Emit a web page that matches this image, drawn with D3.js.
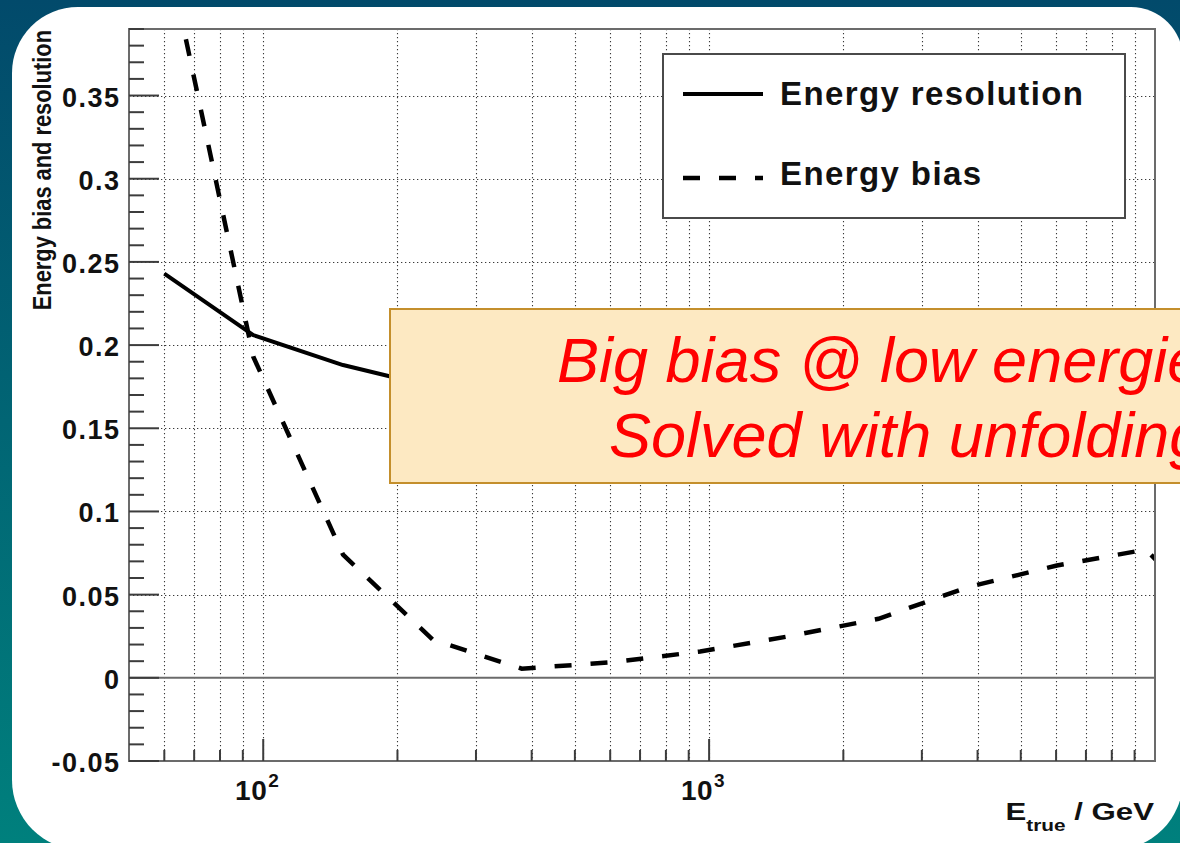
<!DOCTYPE html>
<html>
<head>
<meta charset="utf-8">
<script src="https://cdn.jsdelivr.net/npm/d3@7"></script>
<style>
  html, body { margin: 0; padding: 0; overflow: hidden; background: #fff; }
  svg { display: block; }
  text { font-family: "Liberation Sans", Arial, Helvetica, sans-serif; }
</style>
</head>
<body>
<svg id="chart" width="1180" height="843"></svg>
<script>
// Bin centres of the true-energy histogram (GeV)
const energyGeV = [60, 95, 151, 240, 380, 603, 955, 1514, 2399, 3802, 6026, 9550, 15136];
// Relative energy resolution per bin
const resolution = [0.243, 0.206, 0.188, 0.175, 0.162, 0.152, 0.144, 0.138, 0.133, 0.130, 0.128, 0.127];
// Relative energy bias per bin
const bias = [0.445, 0.193, 0.074, 0.023, 0.0055, 0.0093, 0.0158, 0.025, 0.0355, 0.0545, 0.0675, 0.0771, 0.02];

const yMajorTicks = [-0.05, 0, 0.05, 0.1, 0.15, 0.2, 0.25, 0.3, 0.35];
const yTickLabels = ["-0.05", "0", "0.05", "0.1", "0.15", "0.2", "0.25", "0.3", "0.35"];
const xDecades = [100, 1000];
const xDecadeExponents = ["2", "3"];
const legendLabels = ["Energy resolution", "Energy bias"];
const noteLines = ["Big bias @ low energies", "Solved with unfolding"];
const yTitle = "Energy bias and resolution";

const svg = d3.select("#chart");
const W = 1180, H = 843;
const frame = { left: 129, right: 1155, top: 29, bottom: 761 };

const x = d3.scaleLog().domain([50, 10000]).range([frame.left, frame.right]);
const y = d3.scaleLinear().domain([-0.05, 0.39]).range([frame.bottom, frame.top]);

// ---- slide backdrop ----
const defs = svg.append("defs");
const grad = defs.append("linearGradient").attr("id", "slideBg")
  .attr("x1", 0).attr("y1", 0).attr("x2", 0).attr("y2", 1);
grad.append("stop").attr("offset", "0%").attr("stop-color", "#024a6b");
grad.append("stop").attr("offset", "100%").attr("stop-color", "#00807d");
svg.append("rect").attr("width", W).attr("height", H).attr("fill", "url(#slideBg)");

// white content panel with rounded corners (partly beyond the slide edge)
const pL = 12, pT = 7, pR = 1183, pB = 850;
const rTL = 66, rTR = 52, rBR = 70, rBL = 70;
svg.append("path").attr("fill", "#fff").attr("d",
  `M${pL + rTL},${pT} H${pR - rTR} A${rTR},${rTR} 0 0 1 ${pR},${pT + rTR}` +
  ` V${pB - rBR} A${rBR},${rBR} 0 0 1 ${pR - rBR},${pB}` +
  ` H${pL + rBL} A${rBL},${rBL} 0 0 1 ${pL},${pB - rBL}` +
  ` V${pT + rTL} A${rTL},${rTL} 0 0 1 ${pL + rTL},${pT} Z`);

defs.append("clipPath").attr("id", "plotClip").append("rect")
  .attr("x", frame.left).attr("y", frame.top)
  .attr("width", frame.right - frame.left).attr("height", frame.bottom - frame.top);

// ---- grid ----
const xTicks = x.ticks().filter(v => v > 50 && v < 10000);
const grid = svg.append("g").attr("stroke", "#3a3a3a").attr("stroke-width", 1.1)
  .attr("stroke-dasharray", "1.3,2.7");
grid.selectAll("line.vx").data(xTicks).join("line")
  .attr("x1", d => Math.round(x(d)) + 0.5).attr("x2", d => Math.round(x(d)) + 0.5)
  .attr("y1", frame.top).attr("y2", frame.bottom);
grid.selectAll("line.hy").data(yMajorTicks.filter(v => v > 0)).join("line")
  .attr("x1", frame.left).attr("x2", frame.right)
  .attr("y1", d => Math.round(y(d)) + 0.5).attr("y2", d => Math.round(y(d)) + 0.5);

// zero line
svg.append("line").attr("x1", frame.left).attr("x2", frame.right)
  .attr("y1", y(0)).attr("y2", y(0)).attr("stroke", "#6b6b6b").attr("stroke-width", 2);

// ---- curves ----
const lineGen = d3.line().x(d => x(d[0])).y(d => y(d[1]));
const curves = svg.append("g").attr("clip-path", "url(#plotClip)");
curves.append("path")
  .datum(resolution.map((v, i) => [energyGeV[i], v]))
  .attr("d", lineGen).attr("fill", "none").attr("stroke", "#000")
  .attr("stroke-width", 4).attr("stroke-linejoin", "round");
curves.append("path")
  .datum(bias.map((v, i) => [energyGeV[i], v]))
  .attr("d", lineGen).attr("fill", "none").attr("stroke", "#000")
  .attr("stroke-width", 4.5).attr("stroke-dasharray", "17,19").attr("stroke-dashoffset", 4);

// ---- frame and ticks ----
svg.append("rect").attr("x", frame.left).attr("y", frame.top)
  .attr("width", frame.right - frame.left).attr("height", frame.bottom - frame.top)
  .attr("fill", "none").attr("stroke", "#6b6b6b").attr("stroke-width", 2);

const yMinor = y.ticks(44);
svg.append("g").attr("stroke", "#3c3c3c").attr("stroke-width", 2)
  .selectAll("line").data(yMinor).join("line")
  .attr("x1", frame.left)
  .attr("x2", d => frame.left + (Math.round(d * 100) % 5 === 0 ? 30 : 15))
  .attr("y1", d => y(d)).attr("y2", d => y(d));

svg.append("g").attr("stroke", "#3c3c3c").attr("stroke-width", 2)
  .selectAll("line").data(xTicks).join("line")
  .attr("x1", d => x(d)).attr("x2", d => x(d))
  .attr("y1", frame.bottom)
  .attr("y2", d => frame.bottom - (xDecades.includes(d) ? 22 : 11));

// y tick labels
svg.append("g").selectAll("text").data(yMajorTicks).join("text")
  .attr("x", 120.5).attr("y", d => y(d) + 11)
  .attr("text-anchor", "end").attr("font-size", 27).attr("font-weight", "bold")
  .attr("letter-spacing", 1.5).attr("fill", "#111")
  .text((d, i) => yTickLabels[i]);

// x decade labels
const xl = svg.append("g").attr("fill", "#111").attr("font-weight", "bold");
xDecades.forEach((d, i) => {
  xl.append("text").attr("x", x(d) + 4).attr("y", 800).attr("text-anchor", "end")
    .attr("font-size", 28).attr("letter-spacing", 0.5).text("10");
  xl.append("text").attr("x", x(d) + 5).attr("y", 787).attr("font-size", 19)
    .text(xDecadeExponents[i]);
});

// axis titles
svg.append("text").attr("transform", `translate(51,${frame.top + 1}) rotate(-90) scale(0.84,1)`)
  .attr("text-anchor", "end").attr("font-size", 26).attr("font-weight", "bold")
  .attr("fill", "#111").text(yTitle);

const xt = svg.append("text").attr("transform", "translate(1154,820) scale(1.3,1)")
  .attr("text-anchor", "end").attr("font-weight", "bold").attr("fill", "#111");
xt.append("tspan").attr("font-size", 24).text("E");
xt.append("tspan").attr("font-size", 16).attr("dy", 11).text("true");
xt.append("tspan").attr("font-size", 24).attr("dy", -11).text(" / GeV");

// ---- legend ----
const lg = svg.append("g");
lg.append("rect").attr("x", 663).attr("y", 54).attr("width", 462).attr("height", 164)
  .attr("fill", "#fff").attr("stroke", "#4a4a4a").attr("stroke-width", 2);
lg.append("line").attr("x1", 683).attr("x2", 763).attr("y1", 94).attr("y2", 94)
  .attr("stroke", "#000").attr("stroke-width", 4);
lg.append("line").attr("x1", 683).attr("x2", 763).attr("y1", 178).attr("y2", 178)
  .attr("stroke", "#000").attr("stroke-width", 4.5).attr("stroke-dasharray", "17,19");
lg.selectAll("text").data(legendLabels).join("text")
  .attr("x", 780).attr("y", (d, i) => i === 0 ? 105 : 185)
  .attr("font-size", 33).attr("font-weight", "bold").attr("letter-spacing", 1.4)
  .attr("fill", "#111").text(d => d);

// ---- annotation box ----
svg.append("rect").attr("x", 390).attr("y", 309).attr("width", 820).attr("height", 174)
  .attr("fill", "#fde9c2").attr("stroke", "#c48f2c").attr("stroke-width", 2);
svg.selectAll("text.note").data(noteLines).join("text").attr("class", "note")
  .attr("x", (d, i) => i === 0 ? 557 : 609).attr("y", (d, i) => i === 0 ? 382 : 457)
  .attr("font-size", 63).attr("font-style", "italic").attr("fill", "#ff0000")
  .text(d => d);
</script>
</body>
</html>
